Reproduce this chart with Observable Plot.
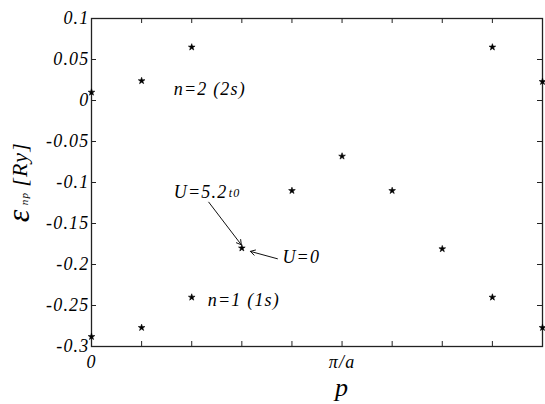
<!DOCTYPE html>
<html><head><meta charset="utf-8">
<script src="https://cdn.jsdelivr.net/npm/d3@7"></script>
<script src="https://cdn.jsdelivr.net/npm/@observablehq/plot@0.6"></script>
<style>body{margin:0;background:#fff;} svg{display:block;}</style>
</head><body><div id="chart"></div>
<script>
// momentum grid in units of pi/(5a)
const pSteps = [0, 1, 2, 3, 4, 5, 6, 7, 8, 9];
const band1 = [-0.288, -0.277, -0.240, -0.180, null, null, null, -0.181, -0.240, -0.277];
const band2 = [0.010, 0.024, 0.065, null, -0.110, -0.068, -0.110, null, 0.065, 0.023];

const xTickVals = [0, 1, 2, 3, 4, 5, 6, 7, 8];
const xLabelVals = [0, 5];
const xLabelText = ["0", "π/a"];
const yTickVals = [0.1, 0.05, 0, -0.05, -0.1, -0.15, -0.2, -0.25, -0.3];
const yTickText = ["0.1", "0.05", "0", "-0.05", "-0.1", "-0.15", "-0.2", "-0.25", "-0.3"];

const noteText = ["n=2 (2s)", "n=1 (1s)", "U=5.2", "U=0"];
const noteP = [1.64, 2.32, 1.64, 3.81];
const noteE = [0.0134, -0.244, -0.112, -0.191];
const subText = ["t0"];
const subP = [2.74];
const subE = [-0.113];

const arrowP1 = [2.34, 3.71];
const arrowE1 = [-0.124, -0.193];
const arrowP2 = [2.99, 3.17];
const arrowE2 = [-0.176, -0.184];

const points = pSteps.flatMap((p, i) => [{p, e: band1[i]}, {p, e: band2[i]}]).filter(d => d.e != null);
const notes = noteText.map((t, i) => ({t, p: noteP[i], e: noteE[i]}));
const subs = subText.map((t, i) => ({t, p: subP[i], e: subE[i]}));
const arrows = arrowP1.map((p, i) => ({p1: p, e1: arrowE1[i], p2: arrowP2[i], e2: arrowE2[i]}));

const W = 545, H = 404, mL = 91, mR = 3, mT = 18, mB = 58;
const fw = W - mL - mR, fh = H - mT - mB;
const serif = "Liberation Serif";

const chart = Plot.plot({
  width: W, height: H,
  marginLeft: mL, marginRight: mR, marginTop: mT, marginBottom: mB,
  x: {domain: [0, 9]},
  y: {domain: [-0.3, 0.1]},
  style: {fontFamily: serif, fontStyle: "italic", fontSize: "18px", letterSpacing: "1.2px", color: "black", background: "white"},
  marks: [
    Plot.frame({stroke: "#222", strokeWidth: 1.3}),
    Plot.tickX(xTickVals, {x: d => d, insetTop: fh - 5, stroke: "#222"}),
    Plot.tickX(xTickVals, {x: d => d, insetBottom: fh - 5, stroke: "#222"}),
    Plot.tickY(yTickVals, {y: d => d, insetRight: fw - 5, stroke: "#222"}),
    Plot.tickY(yTickVals, {y: d => d, insetLeft: fw - 5, stroke: "#222"}),
    Plot.axisX(xLabelVals, {tickSize: 0, tickPadding: 9, fontFamily: serif, fontSize: 18, tickFormat: d => xLabelText[xLabelVals.indexOf(d)], label: null}),
    Plot.axisY(yTickVals, {tickSize: 0, tickPadding: 2, fontFamily: serif, fontSize: 18, tickFormat: d => yTickText[yTickVals.indexOf(d)], label: null}),
    Plot.text(["p"], {x: 5, frameAnchor: "bottom", lineAnchor: "bottom", dy: 49, text: d => d, fontFamily: serif, fontSize: 26}),
    Plot.text(["ε"], {y: -0.140, frameAnchor: "left", textAnchor: "middle", dx: -73, rotate: -90, text: d => d, fontFamily: serif, fontSize: 32}),
    Plot.text(["np"], {y: -0.1195, frameAnchor: "left", textAnchor: "middle", dx: -67, rotate: -90, text: d => d, fontFamily: serif, fontSize: 11, letterSpacing: "0px"}),
    Plot.text(["[Ry]"], {y: -0.078, frameAnchor: "left", textAnchor: "middle", dx: -72, rotate: -90, text: d => d, fontFamily: serif, fontSize: 22, letterSpacing: "0.5px"}),
    Plot.dot(points, {x: "p", y: "e", symbol: "star", r: 2.1, fill: "black", stroke: "black", strokeWidth: 0.6}),
    Plot.text(notes, {x: "p", y: "e", text: "t", textAnchor: "start", lineAnchor: "middle", fontFamily: serif, fontSize: 18}),
    Plot.text(subs, {x: "p", y: "e", text: "t", textAnchor: "start", lineAnchor: "middle", fontFamily: serif, fontSize: 12, letterSpacing: "0px"}),
    Plot.arrow(arrows, {x1: "p1", y1: "e1", x2: "p2", y2: "e2", stroke: "#111", strokeWidth: 1, headLength: 8})
  ]
});
document.getElementById("chart").appendChild(chart);
</script>
</body></html>
